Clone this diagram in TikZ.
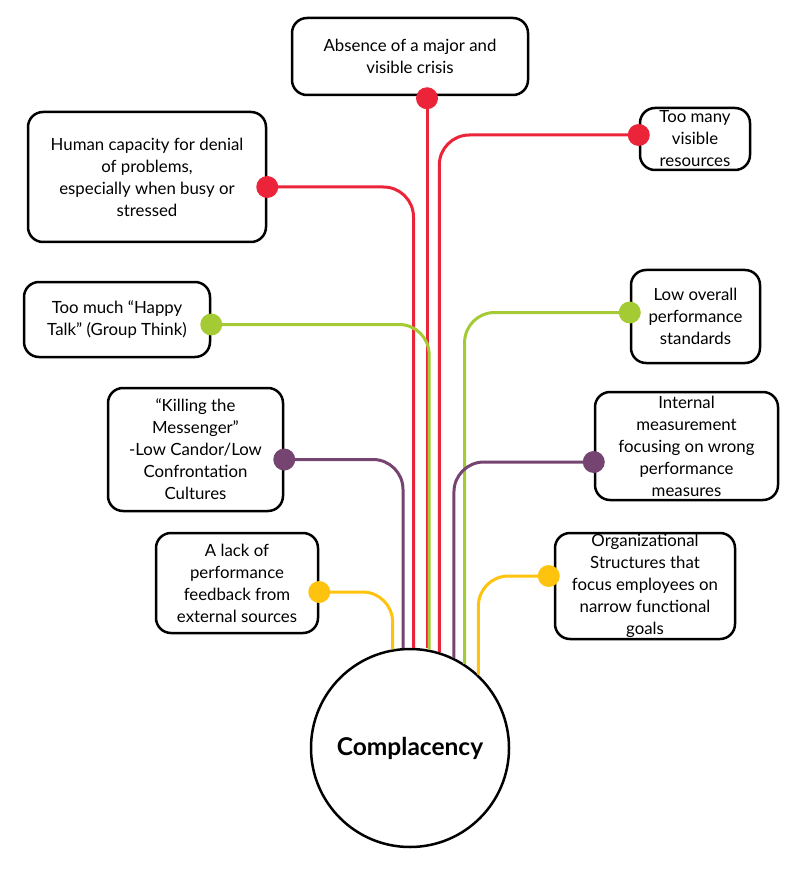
\documentclass[tikz,border=0pt]{standalone}
\usepackage{fontspec}
\setmainfont{Lato}
\usetikzlibrary{positioning}

\definecolor{crisisred}{HTML}{EC2439}
\definecolor{talkgreen}{HTML}{A4CB34}
\definecolor{candorpurple}{HTML}{764470}
\definecolor{feedyellow}{HTML}{FDC30F}

\tikzset{
  issue/.style={draw, line width=2.5pt, rounded corners=15pt, fill=white,
    align=center, inner sep=0pt, font=\fontsize{16.8}{22}\selectfont},
  link/.style={line width=3pt, rounded corners=30pt},
  knob/.style={draw=none}
}

\begin{document}
\begin{tikzpicture}[x=1pt,y=-1pt]
\useasboundingbox (0,0) rectangle (805,890);

% the core
\node[draw, circle, line width=2.5pt, minimum size=198pt, inner sep=0pt,
  font=\fontsize{24.5}{28}\selectfont\bfseries] (cplx) at (410,748) {Complacency};

% causes
\node[issue, minimum width=236pt, minimum height=77pt] (absence) at (410,56.5)
  {Absence of a major and\\visible crisis};
\node[issue, minimum width=110pt, minimum height=62pt] (many) at (695,139)
  {Too many\\visible\\resources};
\node[issue, minimum width=238pt, minimum height=130pt] (human) at (147,177)
  {Human capacity for denial\\of problems,\\especially when busy or\\stressed};
\node[issue, minimum width=186pt, minimum height=75pt] (happy) at (117,319.5)
  {Too much “Happy\\Talk” (Group Think)};
\node[issue, minimum width=129pt, minimum height=93pt] (low) at (695.5,316.5)
  {Low overall\\performance\\standards};
\node[issue, minimum width=175pt, minimum height=123pt] (killing) at (195.5,449.5)
  {“Killing the\\Messenger”\\-Low Candor/Low\\Confrontation\\Cultures};
\node[issue, minimum width=183pt, minimum height=108pt] (internal) at (686.5,446)
  {Internal\\measurement\\focusing on wrong\\performance\\measures};
\node[issue, minimum width=162pt, minimum height=100pt] (lack) at (237,583)
  {A lack of\\performance\\feedback from\\external sources};
\node[issue, minimum width=180pt, minimum height=106pt] (org) at (645,586)
  {Organizational\\Structures that\\focus employees on\\narrow functional\\goals};

% where the lines leave the boxes
\coordinate (dAbsence) at ([xshift=17pt,yshift=-2pt]absence.south);
\coordinate (dMany) at ([yshift=4pt]many.west);
\coordinate (dHuman) at ([yshift=-10pt]human.east);
\coordinate (dHappy) at ([yshift=-5pt]happy.east);
\coordinate (dLow) at ([yshift=4pt]low.west);
\coordinate (dKilling) at ([yshift=-10pt]killing.east);
\coordinate (dInternal) at ([yshift=-16pt]internal.west);
\coordinate (dLack) at ([yshift=-9pt]lack.east);
\coordinate (dOrg) at ([xshift=-5pt,yshift=10pt]org.west);

% lines
\draw[link, crisisred] (dAbsence) -- (dAbsence |- cplx.north);
\draw[link, crisisred] (dHuman) -| (cplx.88);
\draw[link, crisisred] (dMany) -| (cplx.73);
\draw[link, talkgreen] (dHappy) -| (cplx.79.5);
\draw[link, talkgreen] (dLow) -| (cplx.57);
\draw[link, candorpurple] (dKilling) -| (cplx.94.6);
\draw[link, candorpurple] (dInternal) -| (cplx.64.3);
\draw[link, feedyellow] (dLack) -| (cplx.100.5);
\draw[link, feedyellow] (dOrg) -| (cplx.47.4);

% dots
\filldraw[knob, fill=crisisred] (dAbsence) circle (11pt);
\filldraw[knob, fill=crisisred] (dHuman) circle (11pt);
\filldraw[knob, fill=crisisred] (dMany) circle (11pt);
\filldraw[knob, fill=talkgreen] (dHappy) circle (11pt);
\filldraw[knob, fill=talkgreen] (dLow) circle (11pt);
\filldraw[knob, fill=candorpurple] (dKilling) circle (11pt);
\filldraw[knob, fill=candorpurple] (dInternal) circle (11pt);
\filldraw[knob, fill=feedyellow] (dLack) circle (11pt);
\filldraw[knob, fill=feedyellow] (dOrg) circle (11pt);
\end{tikzpicture}
\end{document}
